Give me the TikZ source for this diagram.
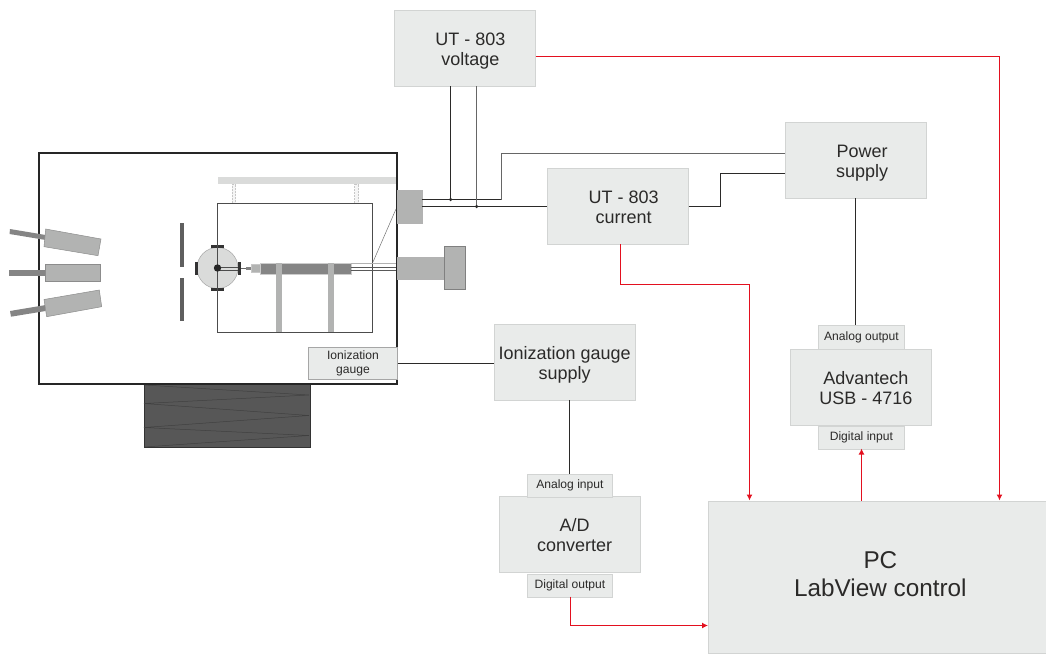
\documentclass[tikz,border=0pt]{standalone}
\usepackage{fontspec}
\setmainfont{Liberation Sans}
\usetikzlibrary{arrows.meta}
\definecolor{boxfill}{HTML}{E9EBEA}
\definecolor{boxedge}{HTML}{D2D4D3}
\definecolor{redline}{HTML}{E3101F}
\definecolor{txt}{HTML}{2B2A29}
\definecolor{partgray}{HTML}{B2B3B2}
\definecolor{darkgray}{HTML}{858585}
\definecolor{barcolor}{HTML}{5F5F5F}
\definecolor{lightbar}{HTML}{DADBDA}
\definecolor{pump}{HTML}{575757}
\newcommand{\nudge}[1]{\hspace*{#1pt}}
\newcommand{\textdrop}{\rule{0pt}{18pt}}
\newcommand{\textfoot}{\rule[-4pt]{0pt}{4pt}}
\tikzset{
  panel/.style={draw=boxedge,line width=0.8pt,fill=boxfill,text=txt,align=center,inner sep=0pt,anchor=north west},
  bigbox/.style={panel,font=\fontsize{18}{20.5}\selectfont},
  hugebox/.style={panel,font=\fontsize{24.3}{28}\selectfont},
  tagbox/.style={panel,font=\fontsize{12.1}{14}\selectfont},
  wire/.style={draw=txt,line width=0.9pt},
  wiregray/.style={draw=black!60,line width=0.9pt},
  sigline/.style={draw=redline,line width=1.3pt,-{Latex[length=6pt,width=6pt]}},
  part/.style={fill=partgray,draw=black!45,line width=0.5pt},
  gun/.style={fill=darkgray},
  frameline/.style={draw=black!70,line width=1.1pt},
  dot/.style={circle,fill=txt,inner sep=0pt,minimum size=3.5pt},
}
\begin{document}
\begin{tikzpicture}[x=1pt,y=-1pt]
\useasboundingbox (0,0) rectangle (1046,653);
% pump
\fill[pump,draw=black!80,line width=1pt] (144,384.5) rectangle (310,447);
\draw[black!75,line width=0.5pt] (144,385) -- (309,395) -- (144,403.5) -- (309,415.5) -- (144,427.5) -- (309,435.5) -- (144,447);
% chamber
\draw[draw=black!85,line width=2pt] (39,152.5) rectangle (396.5,384);
% guns
\fill[gun] (10,229) -- (45.7,235) -- (45.7,240) -- (9.5,234) -- cycle;
\draw[part] (45.7,229) -- (101,239) -- (98,255.7) -- (44,246.7) -- cycle;
\fill[gun] (9,270) rectangle (45,275.7);
\draw[part] (45,264) rectangle (100,281.7);
\fill[gun] (10,311) -- (45.7,305) -- (45.7,311) -- (11,316.7) -- cycle;
\draw[part] (44,299.5) -- (99.3,290) -- (101.7,306.7) -- (46.7,316.7) -- cycle;
% slit plates
\fill[barcolor] (180,223) rectangle (183.5,266.5);
\fill[barcolor] (180,277.5) rectangle (183.5,321);
% top rail
\fill[lightbar] (218.3,176.7) rectangle (396,184.2);
\fill[black!4,draw=black!22,line width=0.5pt,densely dotted] (232,184.2) rectangle (235.7,203);
\fill[black!4,draw=black!22,line width=0.5pt,densely dotted] (354.5,184.2) rectangle (358.5,203);
% analyser disc
\fill[lightbar,draw=black!35,line width=0.5pt] (217.5,268) circle (20.5);
\fill[black!80] (211,245) rectangle (224,248);
\fill[black!80] (211,288) rectangle (224,291);
\fill[black!80] (195,261.5) rectangle (198,275);
\fill[black!80] (238,261.5) rectangle (241,275);
% frame
\draw[frameline] (217.5,203.5) rectangle (372.5,332.5);
\draw[black!70,line width=0.6pt] (217.5,267.3) -- (238,267.3);
\draw[black!70,line width=0.6pt] (217.5,269.8) -- (238,269.8);
\fill[black!85] (217.5,268) circle (3.7);
% quadrupole assembly
\draw[black!60,line width=0.6pt] (241,268.3) -- (250,268.3);
\fill[darkgray] (246,267) rectangle (251,270);
\fill[partgray,draw=black!22,line width=0.3pt] (251,264.3) rectangle (260,271.7);
\fill[darkgray,draw=black!20,line width=0.4pt] (260,262.7) rectangle (350.7,274.3);
\fill[partgray] (275.7,262.7) rectangle (281.7,332);
\fill[partgray] (328.3,262.7) rectangle (334.3,332);
% feedthrough wires
\draw[black!30,line width=0.5pt] (350.7,263.5) -- (396,263.5);
\draw[black!65,line width=0.6pt] (350.7,267.3) -- (396,267.3);
\draw[black!65,line width=0.6pt] (350.7,270) -- (396,270);
\draw[black!55,line width=0.5pt] (373,262) -- (396,209);
% flanges
\fill[partgray,draw=black!30,line width=0.4pt] (397,190) rectangle (421.7,222.7);
\fill[partgray,draw=black!30,line width=0.4pt] (397,257.3) rectangle (444.3,279.3);
\fill[partgray,draw=black!50,line width=0.5pt] (444.3,246.7) rectangle (465.7,289.3);
% boxes
\node[bigbox,minimum width=141pt,minimum height=76pt] (volt) at (394,10.3) {\textdrop\nudge{11}UT - 803\\\nudge{11}voltage\textfoot};
\node[bigbox,minimum width=141pt,minimum height=76pt] (curr) at (546.8,168) {\textdrop\nudge{12}UT - 803\\\nudge{12}current\textfoot};
\node[bigbox,minimum width=141pt,minimum height=76pt] (power) at (784.8,122) {\textdrop\nudge{13}Power\\\nudge{13}supply\textfoot};
\node[bigbox,minimum width=141pt,minimum height=76pt] (igs) at (493.8,324) {\textdrop Ionization gauge\\supply\textfoot};
\node[bigbox,minimum width=141pt,minimum height=76pt] (adv) at (790,349.3) {\textdrop\nudge{10}Advantech\\\nudge{10}USB - 4716\textfoot};
\node[bigbox,minimum width=141pt,minimum height=76pt] (adc) at (498.8,496) {\textdrop\nudge{10}A/D\\\nudge{10}converter\textfoot};
\node[hugebox,minimum width=338pt,minimum height=152pt] (pc) at (708,500.5) {\nudge{6}PC\\\nudge{6}LabView control\rule[-5pt]{0pt}{5pt}};
\node[tagbox,minimum width=85.4pt,minimum height=24pt] (aout) at (818.3,325.3) {Analog output};
\node[tagbox,minimum width=85.4pt,minimum height=23pt] (din) at (818.3,425.5) {Digital input};
\node[tagbox,minimum width=85pt,minimum height=23pt] (ain) at (527,473.5) {Analog input};
\node[tagbox,minimum width=85pt,minimum height=23pt] (dout) at (527,573.5) {Digital output};
\node[tagbox,minimum width=88.5pt,minimum height=32pt,draw=black!35] (ig) at (308.3,346.7) {Ionization\\gauge};
% junction and end coordinates
\coordinate (fa) at (421.7,199.5);
\coordinate (fb) at (421.7,206.5);
\coordinate (ja) at (450.5,199.5);
\coordinate (jb) at (476.5,206.5);
% wiring
\draw[wire] (fa) -- (ja) -- (501.5,199.5);
\draw[wiregray] (501.5,199.9) -- (501.5,153.5) -- (power.west |- 0,153.5);
\draw[wire] (fb) -- (jb) -- (curr.west |- 0,206.5);
\draw[wire] (450.5,86.3) -- (ja);
\draw[wiregray] (476.5,86.3) -- (jb);
\node[dot] at (ja) {};
\node[dot] at (jb) {};
\draw[wire] (curr.east |- 0,206.5) -- (720.5,206.5) -- (720.5,173.5) -- (power.west |- 0,173.5);
\draw[wire] (855.5,198) -- (855.5,325.3);
\draw[wire] (ig.east) -- (igs.west |- ig.east);
\draw[wire] (569.5,400) -- (569.5,473.5);
% red signals
\draw[sigline] (volt.east |- 0,56.5) -- (999.5,56.5) -- (999.5,500.5);
\draw[sigline] (620.5,244) -- (620.5,284.5) -- (749.5,284.5) -- (749.5,500.5);
\draw[sigline] (861.5,500.5) -- (861.5,448.5);
\draw[sigline] (570.5,596.5) -- (570.5,625.5) -- (708,625.5);
\end{tikzpicture}
\end{document}
